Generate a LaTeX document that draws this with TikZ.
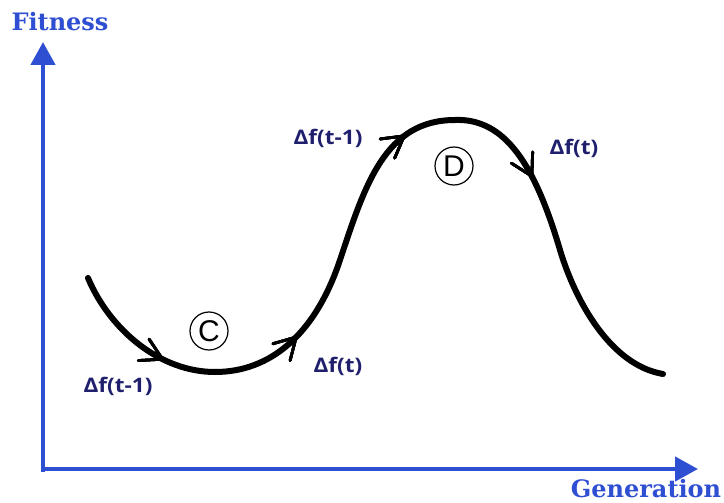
\documentclass[tikz,border=0pt]{standalone}
\usepackage{fontspec}
\usetikzlibrary{arrows.meta,decorations.markings,calc}
\newfontfamily\slabfont{DejaVu Serif}
\newfontfamily\lblfont{Open Sans}
\definecolor{axisblue}{HTML}{2F4FD3}
\definecolor{navy}{HTML}{1F1F6E}
\tikzset{
  axis/.style={axisblue, line width=4.5pt, -{Triangle[length=23pt,width=24pt]}},
  axislabel/.style={text=axisblue, font=\slabfont\bfseries\fontsize{24}{24}\selectfont, inner sep=0pt},
  dlabel/.style={text=navy, font=\lblfont\bfseries\fontsize{20}{20}\selectfont, inner sep=0pt, xscale=1.13},
  curve/.style={line width=6pt, line cap=round},
  tipmark/.style={decoration={markings,
     mark=at position #1 with {\draw[line width=2.8pt, line cap=round, line join=miter]
        (-21pt,12pt) -- (0pt,0pt) -- (-21pt,-12pt);}}, postaction=decorate},
  circlabel/.style={circle, draw, line width=1.2pt, minimum size=38pt, inner sep=0pt,
     font=\fontspec{Liberation Sans}\fontsize{30}{30}\selectfont}
}
\begin{document}
\begin{tikzpicture}[x=1pt,y=-1pt]
\useasboundingbox (0,0) rectangle (724,503);
% axes
\coordinate (origin) at (43,469);
\coordinate (ytip) at (43,42);
\coordinate (xtip) at (698,469);
\draw[axis] ($(origin)+(0,3)$) -- (ytip);
\draw[axis] ($(origin)+(-2.2,0)$) -- (xtip);
\node[axislabel] (fit) at (60,22) {Fitness};
\node[axislabel] (gen) at (646,489) {Generation};
% curve
\coordinate (p0) at (88,278);
\coordinate (p1) at (215,372);
\coordinate (p2) at (340,260);
\coordinate (p3) at (455,120);
\coordinate (p4) at (560,250);
\coordinate (p5) at (663,374);
\draw[curve, tipmark=0.126, tipmark=0.289, tipmark=0.548, tipmark=0.722]
  (p0) .. controls (110,330) and (160,372) .. (p1)
       .. controls (270,372) and (315,335) .. (p2)
       .. controls (365,185) and (385,120) .. (p3)
       .. controls (505,118) and (535,165) .. (p4)
       .. controls (575,300) and (610,365) .. (p5);
% circled letters
\node[circlabel] (cC) at (209,331) {C};
\node[circlabel] (cD) at (454,166) {D};
% labels
\node[dlabel] (l1) at (118,386) {Δf(t-1)};
\node[dlabel] (l2) at (338,366) {Δf(t)};
\node[dlabel] (l3) at (328,138) {Δf(t-1)};
\node[dlabel] (l4) at (574,148) {Δf(t)};
\end{tikzpicture}
\end{document}
